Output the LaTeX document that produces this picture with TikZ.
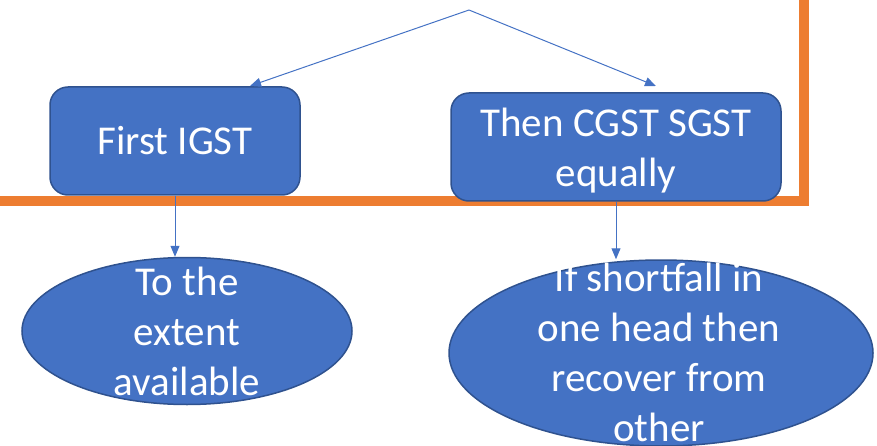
\documentclass[tikz,border=0pt]{standalone}
\usepackage{fontspec}
\setmainfont{Carlito}
\usetikzlibrary{arrows.meta,shapes.geometric}
\definecolor{boxblue}{HTML}{4472C4}
\definecolor{edgeblue}{HTML}{2F528F}
\definecolor{orng}{HTML}{ED7D31}
\begin{document}
\begin{tikzpicture}[x=1pt,y=-1pt,
  box/.style={draw=edgeblue, line width=1.5pt, fill=boxblue, rounded corners=18pt,
              text=white, font=\fontsize{41}{50}\selectfont, align=center, inner sep=0pt},
  ell/.style={ellipse, draw=edgeblue, line width=1.5pt, fill=boxblue, inner sep=0pt},
  txt/.style={text=white, font=\fontsize{41}{50}\selectfont, align=center, inner sep=0pt},
  conn/.style={draw=boxblue, line width=1pt, -{Triangle[length=11pt,width=9pt]}},
  orangeline/.style={draw=orng, line width=10pt, line join=miter}]
\useasboundingbox (0,0) rectangle (877,446);
\draw[orangeline] (-10,201) -- (803.5,201) -- (803.5,-10);

\node[box, minimum width=250pt, minimum height=108pt] (b1) at (175,141) {\raisebox{-3pt}{First IGST}};
\node[box, minimum width=330pt, minimum height=108pt] (b2) at (616,147) {};
\node[txt] (b2t) at ([yshift=-4pt]b2.center) {Then CGST SGST\\equally};

\node[ell, minimum width=330pt, minimum height=147pt] (e1) at (187,331) {};
\node[txt] (t1) at (e1.center) {To the\\extent\\available};
\node[ell, minimum width=424pt, minimum height=186pt] (e2) at (661,353) {};
\node[txt] (t2) at ([xshift=-2pt,yshift=1pt]e2.center) {If shortfall in\\one head then\\recover from\\other};

\coordinate (apex) at (469,10);
\coordinate (p1) at (250,86);
\coordinate (p2) at (656,86);
\draw[conn] (apex) -- (p1);
\draw[conn] (apex) -- (p2);
\draw[conn] (b1.south) -- (b1.south |- e1.north);
\draw[conn] (b2.south) -- (b2.south |- e2.north);
\end{tikzpicture}
\end{document}
